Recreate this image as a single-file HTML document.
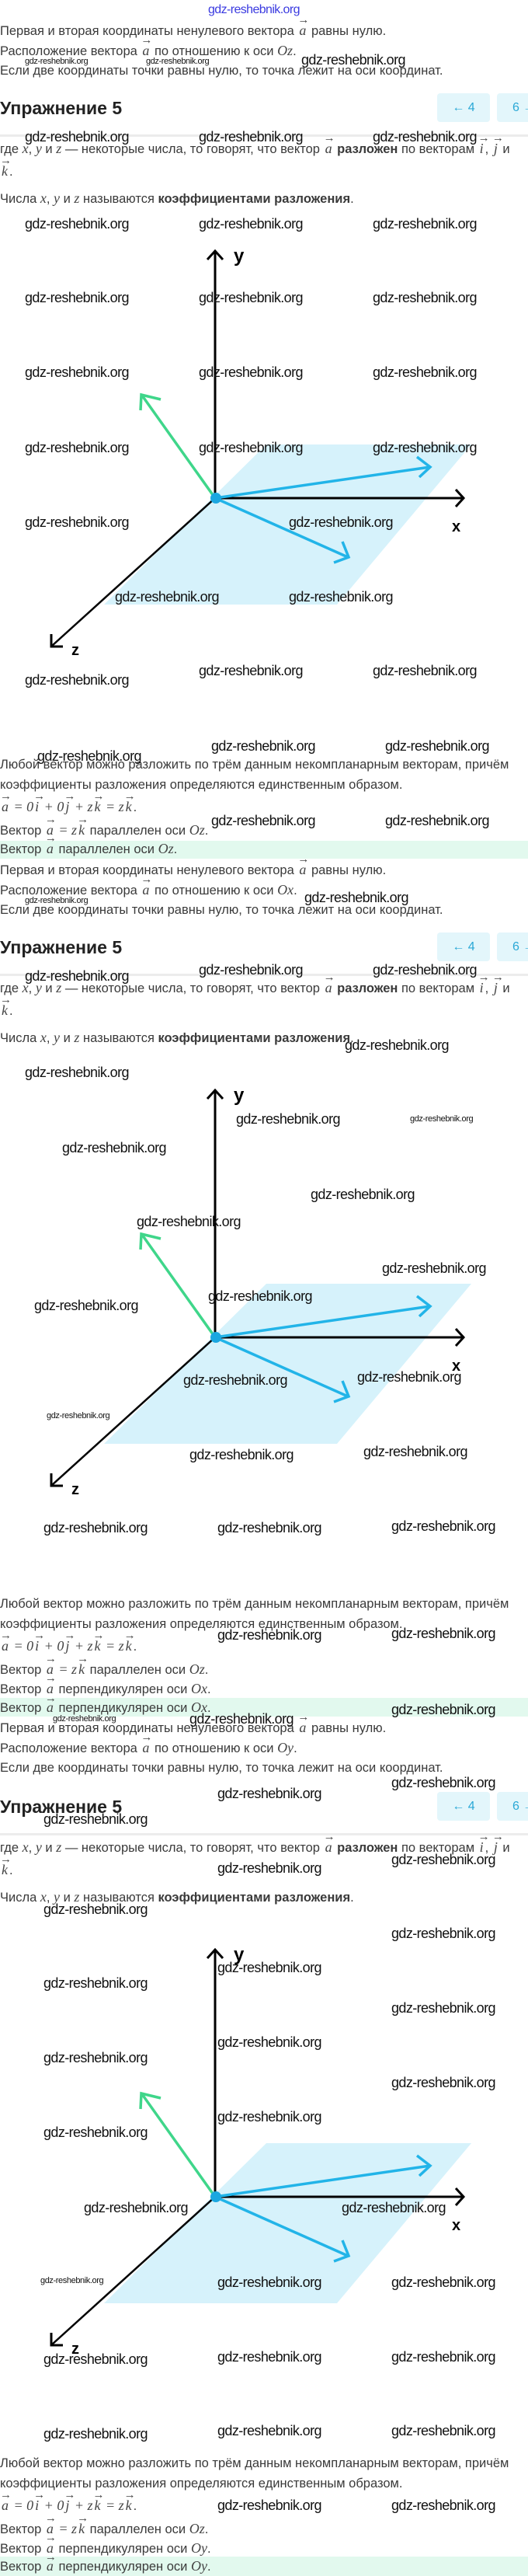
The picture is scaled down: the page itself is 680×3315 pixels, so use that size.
<!DOCTYPE html>
<html><head><meta charset="utf-8"><style>
body{margin:0;background:#fff;}
#p{position:relative;width:680px;height:3315px;overflow:hidden;font-family:"Liberation Sans",sans-serif;color:#333;}
.b{position:absolute;left:0;width:680px;height:1200px;}
.t{position:absolute;left:0;font-size:16.5px;line-height:20px;white-space:nowrap;color:#3a3a3a;}
.m{font-family:"Liberation Serif",serif;font-style:italic;font-size:18px;color:#444;}
.v{position:relative;font-family:"Liberation Serif",serif;font-style:italic;font-size:18px;color:#444;padding:0 2px;}
.v::before{content:"→";position:absolute;left:0;top:-13px;font-style:normal;font-size:15px;}
.h{position:absolute;left:0;top:123px;font-size:23px;line-height:32px;font-weight:bold;color:#222;}
.btn{position:absolute;top:120px;height:37px;background:#e3f6fb;border-radius:4px;color:#2aa8d6;font-size:16px;line-height:37px;}
.sep{position:absolute;left:0;top:173px;width:680px;height:3px;background:#ececec;}
.hl{background:#e2f9ee;width:680px;}
.w{position:absolute;font-family:"Liberation Sans",sans-serif;font-size:18px;letter-spacing:-0.6px;line-height:22px;color:#111;white-space:nowrap;}
.s{font-size:11px;letter-spacing:-0.4px;line-height:14px;}
svg{position:absolute;left:0;top:300px;}
</style></head><body><div id="p">

<!-- BLOCK 1 -->
<div class="b" style="top:0">
<div class="t" style="top:29px">Первая и вторая координаты ненулевого вектора <span class="v">a</span> равны нулю.</div>
<div class="t" style="top:55px">Расположение вектора <span class="v">a</span> по отношению к оси <span class="m">Oz</span>.</div>
<div class="t" style="top:81px">Если две координаты точки равны нулю, то точка лежит на оси координат.</div>
<div class="h">Упражнение 5</div>
<div class="btn" style="left:563px;width:68px;text-align:center">← 4</div>
<div class="btn" style="left:640px;width:60px;padding-left:20px">6 →</div>
<div class="sep"></div>
<div class="t" style="top:181px">где <span class="m">x</span>, <span class="m">y</span> и <span class="m">z</span> — некоторые числа, то говорят, что вектор <span class="v">a</span> <b>разложен</b> по векторам <span class="v">i</span>, <span class="v">j</span> и</div>
<div class="t" style="top:210px"><span class="v">k</span>.</div>
<div class="t" style="top:245px">Числа <span class="m">x</span>, <span class="m">y</span> и <span class="m">z</span> называются <b>коэффициентами разложения</b>.</div>
<svg width="680" height="560" viewBox="0 300 680 560">
<polygon points="343,572 607,572 434,778 134,778" fill="#d6f2fb"/>
<line x1="277" y1="641" x2="277" y2="324" stroke="#000" stroke-width="3"/>
<polyline points="267,334 277,323 287,334" fill="none" stroke="#000" stroke-width="3"/>
<text x="301" y="337" font-family="Liberation Sans" font-weight="bold" font-size="24">y</text>
<line x1="277" y1="641" x2="597" y2="641" stroke="#000" stroke-width="3"/>
<polyline points="587,630 597,641 587,652" fill="none" stroke="#000" stroke-width="3"/>
<text x="582" y="684" font-family="Liberation Sans" font-weight="bold" font-size="20">x</text>
<line x1="277" y1="641" x2="67" y2="831" stroke="#000" stroke-width="2.5"/>
<polyline points="66,816 66,832 81,832" fill="none" stroke="#000" stroke-width="3"/>
<text x="92" y="843" font-family="Liberation Sans" font-weight="bold" font-size="20">z</text>
<line x1="277" y1="641" x2="183" y2="509" stroke="#3fd68a" stroke-width="3.5"/>
<polyline points="181,528 182,508 207,514" fill="none" stroke="#3fd68a" stroke-width="3.5"/>
<line x1="277" y1="641" x2="554" y2="601" stroke="#22b4e8" stroke-width="3.5"/>
<polyline points="537,588 554,601 540,614" fill="none" stroke="#22b4e8" stroke-width="3.5"/>
<line x1="277" y1="641" x2="448" y2="717" stroke="#22b4e8" stroke-width="3.5"/>
<polyline points="441,697 449,717 430,724" fill="none" stroke="#22b4e8" stroke-width="3.5"/>
<circle cx="278" cy="641" r="7" fill="#1ba7e0"/>
</svg>
<div class="t" style="top:974px">Любой вектор можно разложить по трём данным некомпланарным векторам, причём</div>
<div class="t" style="top:1000px">коэффициенты разложения определяются единственным образом.</div>
<div class="t" style="top:1028px"><span class="v">a</span><span class="m"> = 0</span><span class="v">i</span><span class="m"> + 0</span><span class="v">j</span><span class="m"> + z</span><span class="v">k</span><span class="m"> = z</span><span class="v">k</span>.</div>
<div class="t" style="top:1058px">Вектор <span class="v">a</span><span class="m"> = z</span><span class="v">k</span> параллелен оси <span class="m">Oz</span>.</div>
<div class="t hl" style="top:1082px;height:23px">Вектор <span class="v">a</span> параллелен оси <span class="m">Oz</span>.</div>
</div>

<!-- BLOCK 2 -->
<div class="b" style="top:1080px">
<div class="t" style="top:29px">Первая и вторая координаты ненулевого вектора <span class="v">a</span> равны нулю.</div>
<div class="t" style="top:55px">Расположение вектора <span class="v">a</span> по отношению к оси <span class="m">Ox</span>.</div>
<div class="t" style="top:81px">Если две координаты точки равны нулю, то точка лежит на оси координат.</div>
<div class="h">Упражнение 5</div>
<div class="btn" style="left:563px;width:68px;text-align:center">← 4</div>
<div class="btn" style="left:640px;width:60px;padding-left:20px">6 →</div>
<div class="sep"></div>
<div class="t" style="top:181px">где <span class="m">x</span>, <span class="m">y</span> и <span class="m">z</span> — некоторые числа, то говорят, что вектор <span class="v">a</span> <b>разложен</b> по векторам <span class="v">i</span>, <span class="v">j</span> и</div>
<div class="t" style="top:210px"><span class="v">k</span>.</div>
<div class="t" style="top:245px">Числа <span class="m">x</span>, <span class="m">y</span> и <span class="m">z</span> называются <b>коэффициентами разложения</b>.</div>
<svg width="680" height="560" viewBox="0 300 680 560">
<polygon points="343,572 607,572 434,778 134,778" fill="#d6f2fb"/>
<line x1="277" y1="641" x2="277" y2="324" stroke="#000" stroke-width="3"/>
<polyline points="267,334 277,323 287,334" fill="none" stroke="#000" stroke-width="3"/>
<text x="301" y="337" font-family="Liberation Sans" font-weight="bold" font-size="24">y</text>
<line x1="277" y1="641" x2="597" y2="641" stroke="#000" stroke-width="3"/>
<polyline points="587,630 597,641 587,652" fill="none" stroke="#000" stroke-width="3"/>
<text x="582" y="684" font-family="Liberation Sans" font-weight="bold" font-size="20">x</text>
<line x1="277" y1="641" x2="67" y2="831" stroke="#000" stroke-width="2.5"/>
<polyline points="66,816 66,832 81,832" fill="none" stroke="#000" stroke-width="3"/>
<text x="92" y="843" font-family="Liberation Sans" font-weight="bold" font-size="20">z</text>
<line x1="277" y1="641" x2="183" y2="509" stroke="#3fd68a" stroke-width="3.5"/>
<polyline points="181,528 182,508 207,514" fill="none" stroke="#3fd68a" stroke-width="3.5"/>
<line x1="277" y1="641" x2="554" y2="601" stroke="#22b4e8" stroke-width="3.5"/>
<polyline points="537,588 554,601 540,614" fill="none" stroke="#22b4e8" stroke-width="3.5"/>
<line x1="277" y1="641" x2="448" y2="717" stroke="#22b4e8" stroke-width="3.5"/>
<polyline points="441,697 449,717 430,724" fill="none" stroke="#22b4e8" stroke-width="3.5"/>
<circle cx="278" cy="641" r="7" fill="#1ba7e0"/>
</svg>
<div class="t" style="top:974px">Любой вектор можно разложить по трём данным некомпланарным векторам, причём</div>
<div class="t" style="top:1000px">коэффициенты разложения определяются единственным образом.</div>
<div class="t" style="top:1028px"><span class="v">a</span><span class="m"> = 0</span><span class="v">i</span><span class="m"> + 0</span><span class="v">j</span><span class="m"> + z</span><span class="v">k</span><span class="m"> = z</span><span class="v">k</span>.</div>
<div class="t" style="top:1058px">Вектор <span class="v">a</span><span class="m"> = z</span><span class="v">k</span> параллелен оси <span class="m">Oz</span>.</div>
<div class="t" style="top:1083px">Вектор <span class="v">a</span> перпендикулярен оси <span class="m">Ox</span>.</div>
<div class="t hl" style="top:1105px;height:24px;line-height:24px">Вектор <span class="v">a</span> перпендикулярен оси <span class="m">Ox</span>.</div>
</div>

<!-- BLOCK 3 -->
<div class="b" style="top:2186px">
<div class="t" style="top:27px">Первая и вторая координаты ненулевого вектора <span class="v">a</span> равны нулю.</div>
<div class="t" style="top:53px">Расположение вектора <span class="v">a</span> по отношению к оси <span class="m">Oy</span>.</div>
<div class="t" style="top:79px">Если две координаты точки равны нулю, то точка лежит на оси координат.</div>
<div class="h">Упражнение 5</div>
<div class="btn" style="left:563px;width:68px;text-align:center">← 4</div>
<div class="btn" style="left:640px;width:60px;padding-left:20px">6 →</div>
<div class="sep"></div>
<div class="t" style="top:181px">где <span class="m">x</span>, <span class="m">y</span> и <span class="m">z</span> — некоторые числа, то говорят, что вектор <span class="v">a</span> <b>разложен</b> по векторам <span class="v">i</span>, <span class="v">j</span> и</div>
<div class="t" style="top:210px"><span class="v">k</span>.</div>
<div class="t" style="top:245px">Числа <span class="m">x</span>, <span class="m">y</span> и <span class="m">z</span> называются <b>коэффициентами разложения</b>.</div>
<svg width="680" height="560" viewBox="0 300 680 560">
<polygon points="343,572 607,572 434,778 134,778" fill="#d6f2fb"/>
<line x1="277" y1="641" x2="277" y2="324" stroke="#000" stroke-width="3"/>
<polyline points="267,334 277,323 287,334" fill="none" stroke="#000" stroke-width="3"/>
<text x="301" y="337" font-family="Liberation Sans" font-weight="bold" font-size="24">y</text>
<line x1="277" y1="641" x2="597" y2="641" stroke="#000" stroke-width="3"/>
<polyline points="587,630 597,641 587,652" fill="none" stroke="#000" stroke-width="3"/>
<text x="582" y="684" font-family="Liberation Sans" font-weight="bold" font-size="20">x</text>
<line x1="277" y1="641" x2="67" y2="831" stroke="#000" stroke-width="2.5"/>
<polyline points="66,816 66,832 81,832" fill="none" stroke="#000" stroke-width="3"/>
<text x="92" y="843" font-family="Liberation Sans" font-weight="bold" font-size="20">z</text>
<line x1="277" y1="641" x2="183" y2="509" stroke="#3fd68a" stroke-width="3.5"/>
<polyline points="181,528 182,508 207,514" fill="none" stroke="#3fd68a" stroke-width="3.5"/>
<line x1="277" y1="641" x2="554" y2="601" stroke="#22b4e8" stroke-width="3.5"/>
<polyline points="537,588 554,601 540,614" fill="none" stroke="#22b4e8" stroke-width="3.5"/>
<line x1="277" y1="641" x2="448" y2="717" stroke="#22b4e8" stroke-width="3.5"/>
<polyline points="441,697 449,717 430,724" fill="none" stroke="#22b4e8" stroke-width="3.5"/>
<circle cx="278" cy="641" r="7" fill="#1ba7e0"/>
</svg>
<div class="t" style="top:974px">Любой вектор можно разложить по трём данным некомпланарным векторам, причём</div>
<div class="t" style="top:1000px">коэффициенты разложения определяются единственным образом.</div>
<div class="t" style="top:1028px"><span class="v">a</span><span class="m"> = 0</span><span class="v">i</span><span class="m"> + 0</span><span class="v">j</span><span class="m"> + z</span><span class="v">k</span><span class="m"> = z</span><span class="v">k</span>.</div>
<div class="t" style="top:1058px">Вектор <span class="v">a</span><span class="m"> = z</span><span class="v">k</span> параллелен оси <span class="m">Oz</span>.</div>
<div class="t" style="top:1083px">Вектор <span class="v">a</span> перпендикулярен оси <span class="m">Oy</span>.</div>
<div class="t hl" style="top:1104px;height:25px;line-height:25px">Вектор <span class="v">a</span> перпендикулярен оси <span class="m">Oy</span>.</div>
</div>

<!-- WATERMARKS -->
<div class="w" style="left:268px;top:2px;color:#3a3ae0;font-size:16px">gdz-reshebnik.org</div>
<div class="w s" style="left:32px;top:72px">gdz-reshebnik.org</div>
<div class="w s" style="left:188px;top:72px">gdz-reshebnik.org</div>
<div class="w" style="left:388px;top:66px">gdz-reshebnik.org</div>
<div class="w" style="left:32px;top:165px">gdz-reshebnik.org</div>
<div class="w" style="left:256px;top:165px">gdz-reshebnik.org</div>
<div class="w" style="left:480px;top:165px">gdz-reshebnik.org</div>
<div class="w" style="left:32px;top:277px">gdz-reshebnik.org</div>
<div class="w" style="left:256px;top:277px">gdz-reshebnik.org</div>
<div class="w" style="left:480px;top:277px">gdz-reshebnik.org</div>
<div class="w" style="left:32px;top:372px">gdz-reshebnik.org</div>
<div class="w" style="left:256px;top:372px">gdz-reshebnik.org</div>
<div class="w" style="left:480px;top:372px">gdz-reshebnik.org</div>
<div class="w" style="left:32px;top:468px">gdz-reshebnik.org</div>
<div class="w" style="left:256px;top:468px">gdz-reshebnik.org</div>
<div class="w" style="left:480px;top:468px">gdz-reshebnik.org</div>
<div class="w" style="left:32px;top:565px">gdz-reshebnik.org</div>
<div class="w" style="left:256px;top:565px">gdz-reshebnik.org</div>
<div class="w" style="left:480px;top:565px">gdz-reshebnik.org</div>
<div class="w" style="left:32px;top:661px">gdz-reshebnik.org</div>
<div class="w" style="left:372px;top:661px">gdz-reshebnik.org</div>
<div class="w" style="left:148px;top:757px">gdz-reshebnik.org</div>
<div class="w" style="left:372px;top:757px">gdz-reshebnik.org</div>
<div class="w" style="left:256px;top:852px">gdz-reshebnik.org</div>
<div class="w" style="left:480px;top:852px">gdz-reshebnik.org</div>
<div class="w" style="left:32px;top:864px">gdz-reshebnik.org</div>
<div class="w" style="left:272px;top:949px">gdz-reshebnik.org</div>
<div class="w" style="left:496px;top:949px">gdz-reshebnik.org</div>
<div class="w" style="left:48px;top:962px">gdz-reshebnik.org</div>
<div class="w" style="left:272px;top:1045px">gdz-reshebnik.org</div>
<div class="w" style="left:496px;top:1045px">gdz-reshebnik.org</div>

<div class="w s" style="left:32px;top:1152px">gdz-reshebnik.org</div>
<div class="w" style="left:392px;top:1144px">gdz-reshebnik.org</div>
<div class="w" style="left:256px;top:1237px">gdz-reshebnik.org</div>
<div class="w" style="left:480px;top:1237px">gdz-reshebnik.org</div>
<div class="w" style="left:32px;top:1245px">gdz-reshebnik.org</div>
<div class="w" style="left:444px;top:1334px">gdz-reshebnik.org</div>
<div class="w" style="left:32px;top:1369px">gdz-reshebnik.org</div>
<div class="w" style="left:304px;top:1429px">gdz-reshebnik.org</div>
<div class="w s" style="left:528px;top:1433px">gdz-reshebnik.org</div>
<div class="w" style="left:80px;top:1466px">gdz-reshebnik.org</div>
<div class="w" style="left:400px;top:1526px">gdz-reshebnik.org</div>
<div class="w" style="left:176px;top:1561px">gdz-reshebnik.org</div>
<div class="w" style="left:492px;top:1621px">gdz-reshebnik.org</div>
<div class="w" style="left:268px;top:1657px">gdz-reshebnik.org</div>
<div class="w" style="left:44px;top:1669px">gdz-reshebnik.org</div>
<div class="w" style="left:460px;top:1761px">gdz-reshebnik.org</div>
<div class="w" style="left:236px;top:1765px">gdz-reshebnik.org</div>
<div class="w s" style="left:60px;top:1815px">gdz-reshebnik.org</div>
<div class="w" style="left:468px;top:1857px">gdz-reshebnik.org</div>
<div class="w" style="left:244px;top:1861px">gdz-reshebnik.org</div>
<div class="w" style="left:56px;top:1955px">gdz-reshebnik.org</div>
<div class="w" style="left:280px;top:1955px">gdz-reshebnik.org</div>
<div class="w" style="left:504px;top:1953px">gdz-reshebnik.org</div>
<div class="w" style="left:280px;top:2093px">gdz-reshebnik.org</div>
<div class="w" style="left:504px;top:2091px">gdz-reshebnik.org</div>
<div class="w" style="left:504px;top:2189px">gdz-reshebnik.org</div>
<div class="w s" style="left:68px;top:2205px">gdz-reshebnik.org</div>
<div class="w" style="left:244px;top:2201px">gdz-reshebnik.org</div>
<div class="w" style="left:504px;top:2283px">gdz-reshebnik.org</div>

<div class="w" style="left:280px;top:2297px">gdz-reshebnik.org</div>
<div class="w" style="left:56px;top:2330px">gdz-reshebnik.org</div>
<div class="w" style="left:504px;top:2382px">gdz-reshebnik.org</div>
<div class="w" style="left:280px;top:2393px">gdz-reshebnik.org</div>
<div class="w" style="left:56px;top:2446px">gdz-reshebnik.org</div>
<div class="w" style="left:504px;top:2477px">gdz-reshebnik.org</div>
<div class="w" style="left:280px;top:2521px">gdz-reshebnik.org</div>
<div class="w" style="left:56px;top:2541px">gdz-reshebnik.org</div>
<div class="w" style="left:504px;top:2573px">gdz-reshebnik.org</div>
<div class="w" style="left:280px;top:2617px">gdz-reshebnik.org</div>
<div class="w" style="left:56px;top:2637px">gdz-reshebnik.org</div>
<div class="w" style="left:504px;top:2669px">gdz-reshebnik.org</div>
<div class="w" style="left:280px;top:2713px">gdz-reshebnik.org</div>
<div class="w" style="left:56px;top:2733px">gdz-reshebnik.org</div>
<div class="w" style="left:108px;top:2830px">gdz-reshebnik.org</div>
<div class="w" style="left:440px;top:2830px">gdz-reshebnik.org</div>
<div class="w s" style="left:52px;top:2928px">gdz-reshebnik.org</div>
<div class="w" style="left:280px;top:2926px">gdz-reshebnik.org</div>
<div class="w" style="left:504px;top:2926px">gdz-reshebnik.org</div>
<div class="w" style="left:280px;top:3022px">gdz-reshebnik.org</div>
<div class="w" style="left:504px;top:3022px">gdz-reshebnik.org</div>
<div class="w" style="left:56px;top:3025px">gdz-reshebnik.org</div>
<div class="w" style="left:280px;top:3117px">gdz-reshebnik.org</div>
<div class="w" style="left:504px;top:3117px">gdz-reshebnik.org</div>
<div class="w" style="left:56px;top:3121px">gdz-reshebnik.org</div>
<div class="w" style="left:280px;top:3213px">gdz-reshebnik.org</div>
<div class="w" style="left:504px;top:3213px">gdz-reshebnik.org</div>

</div></body></html>
